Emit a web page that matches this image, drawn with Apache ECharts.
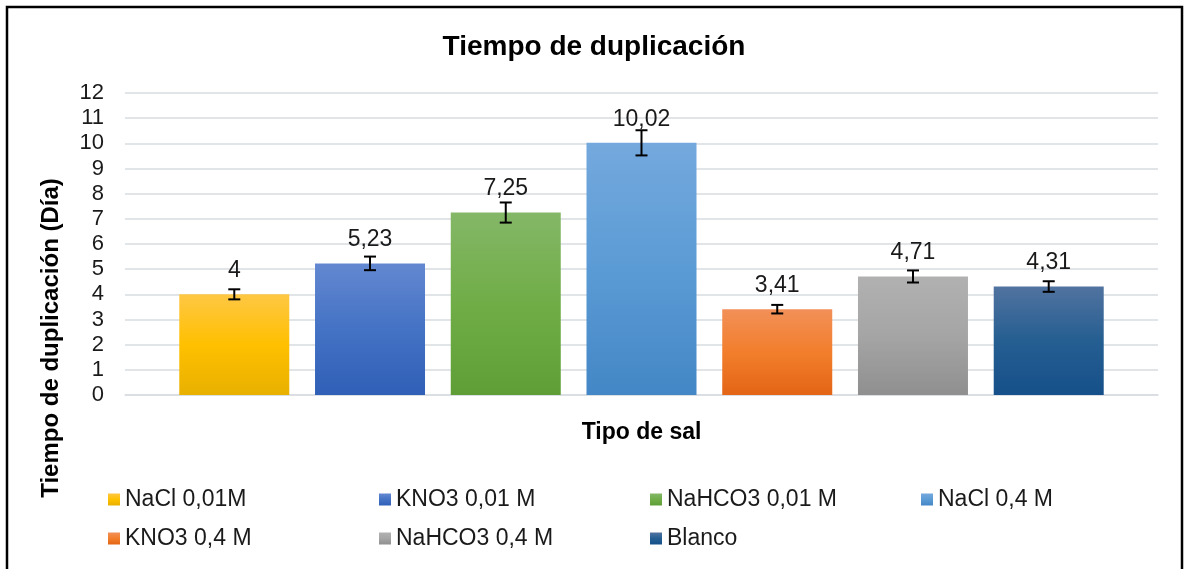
<!DOCTYPE html>
<html>
<head>
<meta charset="utf-8">
<script src="https://cdn.jsdelivr.net/npm/echarts@6/dist/echarts.min.js"></script>
<style>
  html, body { margin: 0; padding: 0; background: #fff; }
  #chart { width: 1188px; height: 569px; }
</style>
</head>
<body>
<div id="chart"></div>
<script>
// datos
var categorias = ['Tipo de sal'];
var nombres = ['NaCl 0,01M', 'KNO3 0,01 M', 'NaHCO3 0,01 M', 'NaCl 0,4 M', 'KNO3 0,4 M', 'NaHCO3 0,4 M', 'Blanco'];
var valores = [4, 5.23, 7.25, 10.02, 3.41, 4.71, 4.31];
var errores = [0.2, 0.27, 0.4, 0.5, 0.17, 0.24, 0.21];
var yTicks = [0, 12, 1];  // min, max, intervalo

// degradados tipo Excel (arriba, medio, abajo)
var colores = [
    ['#FEC744', '#FFC000', '#E8B000'],
    ['#6388D1', '#4472C4', '#2F5FB7'],
    ['#84B767', '#70AD47', '#5F9E36'],
    ['#74A9DD', '#5B9BD5', '#4487C6'],
    ['#F29058', '#F27E2C', '#E36515'],
    ['#B1B1B1', '#A5A5A5', '#8F8F8F'],
    ['#5173A0', '#255E91', '#16508A']
];

var FONT = '"Liberation Sans", Arial, sans-serif';
var BAR_W = 110;
var BAR_GAP = 0.234;

var myChart = echarts.init(document.getElementById('chart'));

function grad(c) {
    return new echarts.graphic.LinearGradient(0, 0, 0, 1, [
        {offset: 0, color: c[0]},
        {offset: 0.5, color: c[1]},
        {offset: 1, color: c[2]}
    ]);
}

var series = [];
$each = function(arr, fn) { for (var i = 0; i < arr.length; i++) fn(i, arr[i]); };
$each(nombres, function(i, n) {
    series.push({
        name: n,
        type: 'bar',
        barWidth: BAR_W,
        barGap: (BAR_GAP * 100) + '%',
        itemStyle: {color: grad(colores[i])},
        label: {
            show: true,
            position: 'top',
            distance: 12,
            fontSize: 23,
            fontFamily: FONT,
            color: '#1a1a1a',
            formatter: function(p) { return String(p.value).replace('.', ','); }
        },
        data: [valores[i]]
    });
});

// barras de error
var errData = [];
$each(valores, function(i, v) {
    errData.push([0, v, errores[i], i]);
});
series.push({
    name: 'error',
    type: 'custom',
    z: 10,
    silent: true,
    renderItem: function(params, api) {
        var v = api.value(1), e = api.value(2), idx = api.value(3);
        var step = BAR_W * (1 + BAR_GAP);
        var dx = (idx - (nombres.length - 1) / 2) * step;
        var top = api.coord([0, v + e]);
        var bot = api.coord([0, v - e]);
        var x = top[0] + dx;
        var hw = 6;
        var st = {stroke: '#000', lineWidth: 2};
        return {
            type: 'group',
            children: [
                {type: 'line', shape: {x1: x, y1: top[1], x2: x, y2: bot[1]}, style: st},
                {type: 'line', shape: {x1: x - hw, y1: top[1], x2: x + hw, y2: top[1]}, style: st},
                {type: 'line', shape: {x1: x - hw, y1: bot[1], x2: x + hw, y2: bot[1]}, style: st}
            ]
        };
    },
    data: errData
});

option = {
    animation: false,
    backgroundColor: '#fff',
    textStyle: {fontFamily: FONT},
    title: {
        text: 'Tiempo de duplicación',
        left: 'center',
        top: 28,
        textStyle: {fontSize: 28, fontWeight: 'bold', color: '#000', fontFamily: FONT}
    },
    legend: {
        data: nombres,
        left: 103,
        top: 480,
        width: 1090,
        itemWidth: 12,
        itemHeight: 12,
        itemGap: 10,
        icon: 'rect',
        textStyle: {fontSize: 23, color: '#1a1a1a', fontFamily: FONT, width: 244, lineHeight: 29}
    },
    grid: {
        left: 125,
        right: 30,
        top: 93,
        bottom: 174,
        containLabel: false
    },
    xAxis: {
        type: 'category',
        data: categorias,
        name: 'Tipo de sal',
        nameLocation: 'middle',
        nameGap: 26,
        nameTextStyle: {fontSize: 23, fontWeight: 'bold', color: '#000', fontFamily: FONT},
        axisLine: {show: true, lineStyle: {color: '#D9DCE1', width: 1.5}},
        axisTick: {show: false},
        axisLabel: {show: false}
    },
    yAxis: {
        type: 'value',
        min: yTicks[0],
        max: yTicks[1],
        interval: yTicks[2],
        axisLine: {show: false},
        axisTick: {show: false},
        axisLabel: {fontSize: 22, color: '#1a1a1a', margin: 21, fontFamily: FONT},
        splitLine: {lineStyle: {color: '#D9DCE1', width: 1.5}}
    },
    graphic: [
        {
            type: 'rect',
            shape: {x: 7, y: 7, width: 1175, height: 620},
            style: {fill: 'none', stroke: '#000', lineWidth: 2.5},
            silent: true
        },
        {
            type: 'text',
            x: 51,
            y: 338,
            rotation: Math.PI / 2,
            style: {
                text: 'Tiempo de duplicación (Día)',
                fontSize: 24,
                fontWeight: 'bold',
                fontFamily: FONT,
                fill: '#000',
                align: 'center',
                verticalAlign: 'middle'
            }
        }
    ],
    series: series
};

myChart.setOption(option);
</script>
</body>
</html>
